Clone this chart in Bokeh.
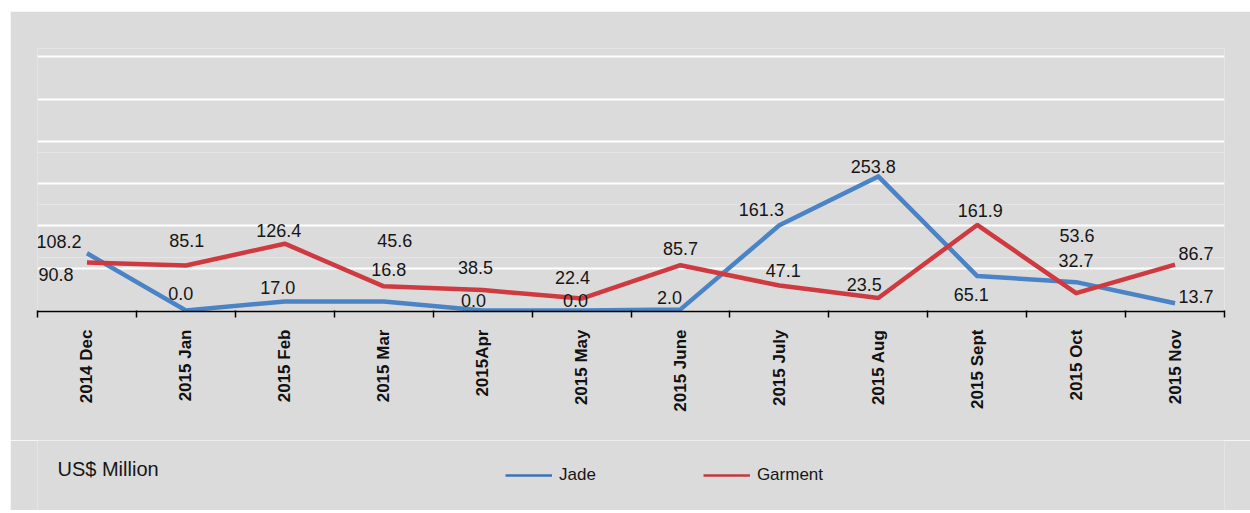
import math
from bokeh.plotting import figure
from bokeh.layouts import column
from bokeh.models import (ColumnDataSource, Range1d, FixedTicker, Grid, LabelSet,
                          Legend, LegendItem)
from bokeh.core.properties import value
from bokeh.embed import file_html
from bokeh.resources import INLINE

# ---------------- data ----------------
months = ["2014 Dec", "2015 Jan", "2015 Feb", "2015 Mar", "2015Apr", "2015 May",
          "2015 June", "2015 July", "2015 Aug", "2015 Sept", "2015 Oct", "2015 Nov"]
jade = [108.2, 0.0, 17.0, 16.8, 0.0, 0.0, 2.0, 161.3, 253.8, 65.1, 53.6, 13.7]
garment = [90.8, 85.1, 126.4, 45.6, 38.5, 22.4, 85.7, 47.1, 23.5, 161.9, 32.7, 86.7]
unit_label = "US$ Million"
series_names = ["Jade", "Garment"]
grid_values = [80, 160, 240, 320, 400, 480]

# label placement (screen px, dx right / dy up) - style only
jade_dx = [-28, -5, -7, 5, -9, -6, -11, -18, -5, -6, 1, 21]
jade_dy = [12, 17, 14, 32, 10, 10, 12, 16, 10, -18, 47, 7]
garm_dx = [-31, 1, -6, 11, -7, -9, 0, 4, -14, 3, 0, 21]
garm_dy = [-12, 25, 13, 46, 23, 21, 17, 15, 14, 14, 33, 11]

BG = "#dbdbdb"
BLUE = "#4a84c6"
RED = "#cf3a40"
FONT = "Liberation Sans"
TXT = "#161616"

xs = [i + 0.5 for i in range(len(months))]

p = figure(width=1240, height=429, output_backend="svg", toolbar_location=None,
           x_range=Range1d(0, len(months)), y_range=Range1d(-2, 496),
           y_axis_location=None, min_border_left=27, min_border_right=26,
           min_border_top=37, min_border_bottom=129)
p.margin = (11, 0, 0, 10)
p.background_fill_color = BG
p.border_fill_color = BG
p.outline_line_color = None
p.xgrid.visible = False

p.add_layout(Grid(dimension=1, ticker=FixedTicker(ticks=grid_values),
                  grid_line_color="white", grid_line_width=2))

src = ColumnDataSource(dict(x=xs, jade=jade, garment=garment))
p.line("x", "jade", source=src, line_color=BLUE, line_width=4.5, line_join="round")
p.line("x", "garment", source=src, line_color=RED, line_width=4.5, line_join="round")

ax = p.xaxis[0]
ax.ticker = FixedTicker(ticks=xs, minor_ticks=list(range(len(months) + 1)))
ax.major_label_overrides = {x: m for x, m in zip(xs, months)}
ax.major_label_orientation = math.pi / 2
ax.major_label_text_font = FONT
ax.major_label_text_font_style = "bold"
ax.major_label_text_font_size = "17px"
ax.major_label_text_color = "#111111"
ax.major_label_standoff = 12
ax.major_tick_out = 0
ax.major_tick_in = 0
ax.minor_tick_out = 6
ax.minor_tick_in = 1
ax.minor_tick_line_color = "black"
ax.minor_tick_line_width = 1.5
ax.axis_line_color = "black"
ax.axis_line_width = 1.5

lab_j = ColumnDataSource(dict(x=xs, y=jade, t=["%.1f" % v for v in jade],
                              dx=jade_dx, dy=jade_dy))
lab_g = ColumnDataSource(dict(x=xs, y=garment, t=["%.1f" % v for v in garment],
                              dx=garm_dx, dy=garm_dy))
for s in (lab_j, lab_g):
    p.add_layout(LabelSet(x="x", y="y", text="t", source=s, x_offset="dx", y_offset="dy",
                          text_align="center", text_baseline="middle",
                          text_font=value(FONT), text_font_size="18px", text_color=TXT))

# ---------------- bottom strip: unit note + legend ----------------
# frame is aligned with the main frame (page x 37..1224); x data = px from frame left
p2 = figure(width=1240, height=70, output_backend="svg", toolbar_location=None,
            x_range=Range1d(0, 1187), y_range=Range1d(0, 70),
            x_axis_location=None, y_axis_location=None,
            min_border_left=27, min_border_right=26, min_border_top=0, min_border_bottom=0)
p2.margin = (0, 0, 0, 10)
p2.background_fill_color = BG
p2.border_fill_color = BG
p2.outline_line_color = None
p2.xgrid.visible = False
p2.ygrid.visible = False

note = ColumnDataSource(dict(x=[20], y=[42], t=[unit_label]))
p2.text("x", "y", text="t", source=note, text_font=value(FONT), text_font_size="20px",
        text_baseline="middle", text_align="left", text_color=TXT)

k_j = p2.line(x=[float("nan")], y=[float("nan")], line_color="#3d72b8", line_width=2.5)
k_g = p2.line(x=[float("nan")], y=[float("nan")], line_color="#c23a40", line_width=2.5)
legend = Legend(items=[LegendItem(label=series_names[0], renderers=[k_j]),
                       LegendItem(label=series_names[1], renderers=[k_g])],
                location=(468, 25), orientation="horizontal",
                glyph_width=47, glyph_height=20, label_standoff=7, spacing=107,
                padding=0, margin=0, background_fill_alpha=0, border_line_alpha=0,
                label_text_font=FONT, label_text_font_size="17px",
                label_text_color=TXT)
p2.add_layout(legend)

layout = column(p, p2, spacing=0)
open("out.html", "w").write(file_html(layout, INLINE))
